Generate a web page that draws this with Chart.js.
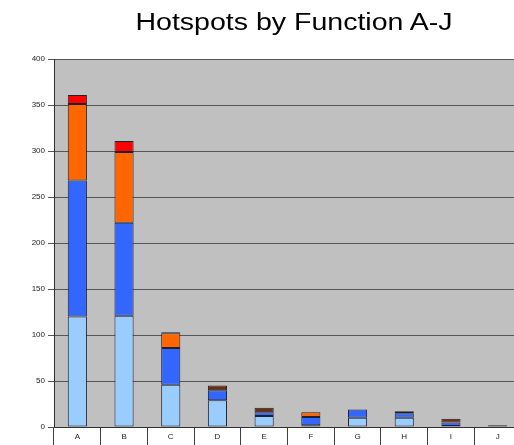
<!DOCTYPE html>
<html>
<head>
<meta charset="utf-8">
<script src="https://cdn.jsdelivr.net/npm/chart.js@4.4.0/dist/chart.umd.min.js"></script>
<style>
  html, body { margin: 0; padding: 0; background: #fff; overflow: hidden; }
  #wrap { position: relative; width: 521px; height: 445px; }
  #title { position: absolute; left: 94px; top: 11px; width: 400px; text-align: center;
           font: 23px/1 'Liberation Sans', Arial, sans-serif; color: #000;
           transform: scaleX(1.24); transform-origin: 50% 50%; white-space: nowrap; }
  canvas { position: absolute; left: 0; top: 0; }
</style>
</head>
<body>
<div id="wrap"><canvas id="c" width="521" height="445"></canvas><div id="title"></div></div>
<script>
const chartTitle = "Hotspots by Function A-J";
const categories = ["A","B","C","D","E","F","G","H","I","J"];
const lightBlueVals = [120, 121, 46, 29, 12, 2, 10, 10, 1, 0];
const blueVals      = [148, 101, 40, 11, 4, 9, 9, 5, 4, 0];
const orangeVals    = [83, 77, 16, 0, 0, 5, 0, 0, 0, 0];
const redVals       = [10, 12, 1, 0, 0, 0, 0, 0, 0, 0];
const brownVals     = [0, 0, 0, 5, 5, 0, 0, 2, 4, 2];
const yTicks = [0, 50, 100, 150, 200, 250, 300, 350, 400];

document.getElementById('title').textContent = chartTitle;

const nz = arr => arr.map(v => v === 0 ? null : v);

const bgPlugin = {
  id: 'plotBg',
  beforeDraw(chart) {
    const a = chart.chartArea, ctx = chart.ctx;
    ctx.save();
    ctx.fillStyle = '#c0c0c0';
    ctx.fillRect(a.left, a.top, a.right - a.left, a.bottom - a.top);
    ctx.restore();
  }
};

const mk = (label, data, color) => ({
  label, data: nz(data), backgroundColor: color,
  borderColor: '#1e2230', borderWidth: 1, borderSkipped: false,
  barPercentage: 0.41, categoryPercentage: 1
});

new Chart(document.getElementById('c'), {
  type: 'bar',
  data: {
    labels: categories,
    datasets: [
      mk('Light', lightBlueVals, '#99ccff'),
      mk('Blue', blueVals, '#3366ff'),
      mk('Orange', orangeVals, '#ff6600'),
      mk('Red', redVals, '#ff0000'),
      mk('Brown', brownVals, '#6e2c08')
    ]
  },
  options: {
    responsive: false,
    animation: false,
    devicePixelRatio: 1,
    layout: { padding: { left: 0, right: 0, top: 59, bottom: 0 } },
    plugins: {
      legend: { display: false },
      tooltip: { enabled: false },
      title: { display: false }
    },
    scales: {
      x: {
        stacked: true,
        grid: { display: true, drawOnChartArea: false, drawTicks: true, tickLength: 18, color: '#404040', offset: true },
        border: { display: true, color: '#303030', width: 1 },
        ticks: { color: '#222', font: { family: 'Liberation Sans, Arial, sans-serif', size: 8 }, padding: -13, maxRotation: 0 },
        afterFit(s) { s.height = 18; }
      },
      y: {
        stacked: true,
        min: 0, max: 400,
        afterBuildTicks(s) { s.ticks = yTicks.map(v => ({ value: v })); },
        grid: { color: '#555', lineWidth: 1, drawTicks: true, tickLength: 6 },
        border: { display: true, color: '#303030', width: 1 },
        ticks: { color: '#222', font: { family: 'Liberation Sans, Arial, sans-serif', size: 8 }, padding: 3 },
        afterFit(s) { s.width = 54; }
      }
    }
  },
  plugins: [bgPlugin]
});
</script>
</body>
</html>
